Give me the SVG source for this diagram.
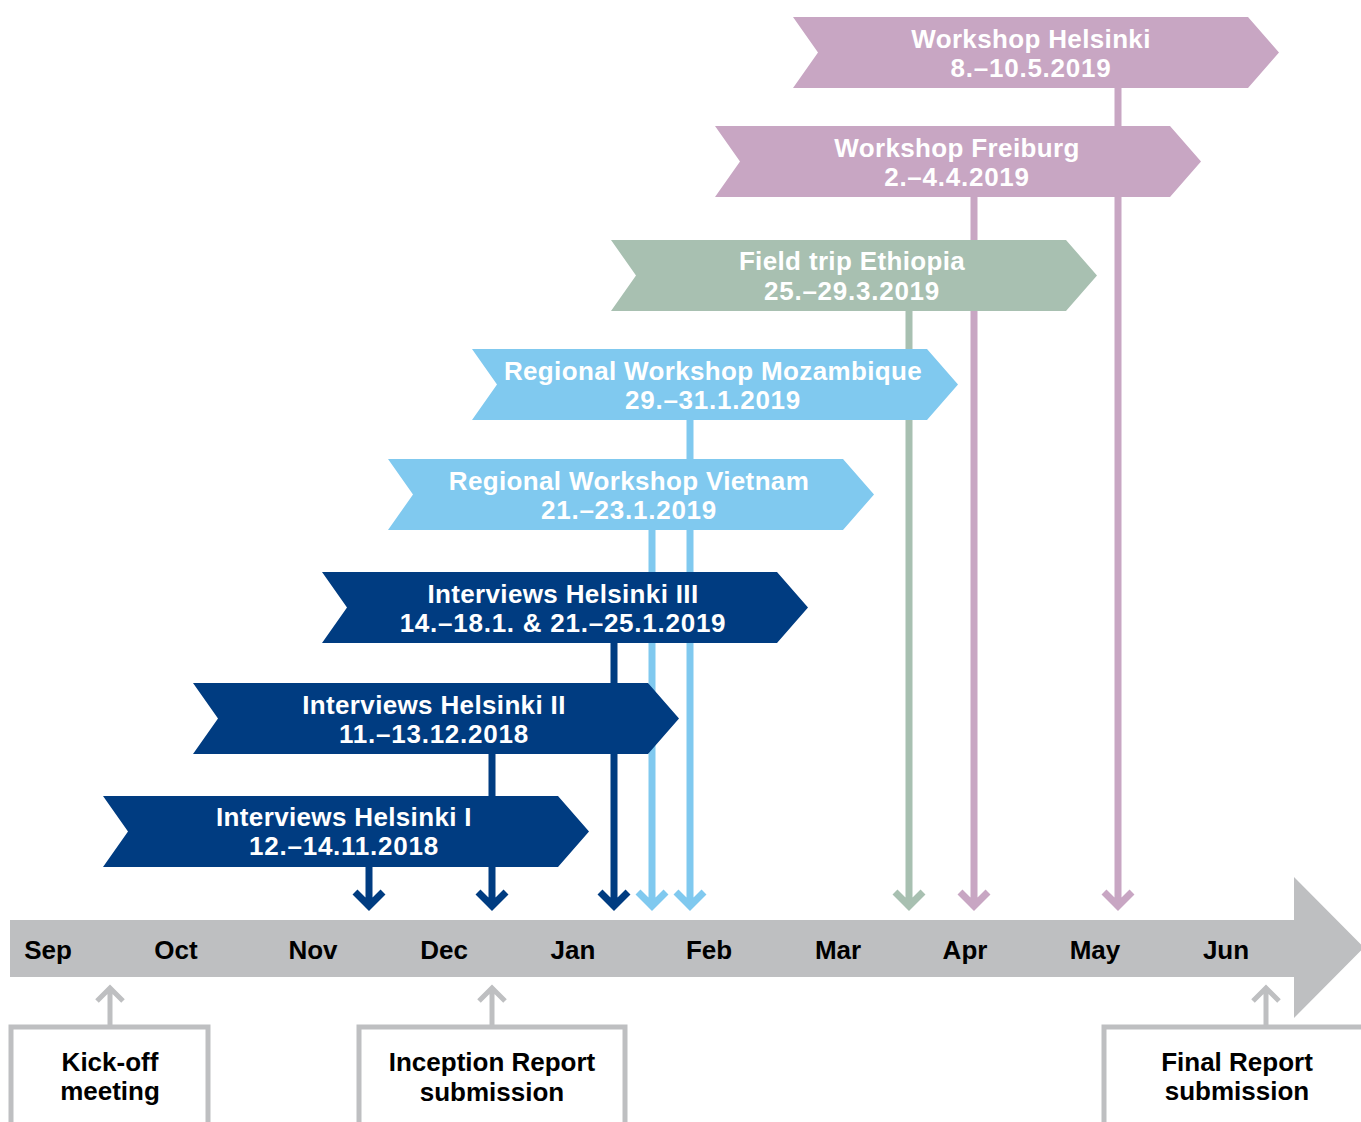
<svg xmlns="http://www.w3.org/2000/svg" width="1361" height="1122" viewBox="0 0 1361 1122">
<style>
.t{font-family:"Liberation Sans",Arial,sans-serif;font-weight:bold;font-size:26px;text-anchor:middle}
.w{fill:#ffffff;letter-spacing:0.35px}
.d{letter-spacing:0.75px}
.k{fill:#000000}
.purple{fill:#c8a6c3}
.green{fill:#a8c0b1}
.light{fill:#80c9ef}
.dark{fill:#003c81}
.lp{stroke:#c8a6c3}
.lg{stroke:#a8c0b1}
.ll{stroke:#80c9ef}
.ld{stroke:#003c81}
.conn{fill:none;stroke-width:7}
.box{fill:#ffffff;stroke:#bebfc1;stroke-width:5}
.up{fill:none;stroke:#bebfc1;stroke-width:5}
</style>
<defs>
<polygon id="chev" points="0,0 455,0 486,35.5 455,71 0,71 25,35.5"/>
</defs>
<g id="connectors">
<path class="conn ld" d="M369,867V905M355,892L369,906L383,892"/>
<path class="conn ld" d="M492,754V905M478,892L492,906L506,892"/>
<path class="conn ld" d="M614,643V905M600,892L614,906L628,892"/>
<path class="conn ll" d="M652,530V905M638,892L652,906L666,892"/>
<path class="conn ll" d="M690,420V905M676,892L690,906L704,892"/>
<path class="conn lg" d="M909,311V905M895,892L909,906L923,892"/>
<path class="conn lp" d="M974,197V905M960,892L974,906L988,892"/>
<path class="conn lp" d="M1118,88V905M1104,892L1118,906L1132,892"/>
</g>
<g id="n-workshop-helsinki">
<use href="#chev" class="purple" transform="translate(793,17)"/>
<text class="t w" x="1031" y="48">Workshop Helsinki</text>
<text class="t w d" x="1031" y="77">8.–10.5.2019</text>
</g>
<g id="n-workshop-freiburg">
<use href="#chev" class="purple" transform="translate(715,126)"/>
<text class="t w" x="957" y="157">Workshop Freiburg</text>
<text class="t w d" x="957" y="186">2.–4.4.2019</text>
</g>
<g id="n-field-trip-ethiopia">
<use href="#chev" class="green" transform="translate(611,240)"/>
<text class="t w" x="852" y="270">Field trip Ethiopia</text>
<text class="t w d" x="852" y="300">25.–29.3.2019</text>
</g>
<g id="n-rw-mozambique">
<use href="#chev" class="light" transform="translate(472,349)"/>
<text class="t w" x="713" y="380">Regional Workshop Mozambique</text>
<text class="t w d" x="713" y="409">29.–31.1.2019</text>
</g>
<g id="n-rw-vietnam">
<use href="#chev" class="light" transform="translate(388,459)"/>
<text class="t w" x="629" y="490">Regional Workshop Vietnam</text>
<text class="t w d" x="629" y="519">21.–23.1.2019</text>
</g>
<g id="n-interviews-3">
<use href="#chev" class="dark" transform="translate(322,572)"/>
<text class="t w" x="563" y="603">Interviews Helsinki III</text>
<text class="t w d" x="563" y="632">14.–18.1. &amp; 21.–25.1.2019</text>
</g>
<g id="n-interviews-2">
<use href="#chev" class="dark" transform="translate(193,683)"/>
<text class="t w" x="434" y="714">Interviews Helsinki II</text>
<text class="t w d" x="434" y="743">11.–13.12.2018</text>
</g>
<g id="n-interviews-1">
<use href="#chev" class="dark" transform="translate(103,796)"/>
<text class="t w" x="344" y="826">Interviews Helsinki I</text>
<text class="t w d" x="344" y="855">12.–14.11.2018</text>
</g>
<g id="timeline">
<polygon fill="#bebfc1" points="10,920 1294,920 1294,877 1364,947.5 1294,1018 1294,977 10,977"/>
<text class="t k" x="48" y="959">Sep</text>
<text class="t k" x="176" y="959">Oct</text>
<text class="t k" x="313" y="959">Nov</text>
<text class="t k" x="444" y="959">Dec</text>
<text class="t k" x="573" y="959">Jan</text>
<text class="t k" x="709" y="959">Feb</text>
<text class="t k" x="838" y="959">Mar</text>
<text class="t k" x="965" y="959">Apr</text>
<text class="t k" x="1095" y="959">May</text>
<text class="t k" x="1226" y="959">Jun</text>
</g>
<g id="n-kickoff">
<path class="up" d="M110,1027V988M97,1001L110,988L123,1001"/>
<rect class="box" x="11" y="1027" width="197" height="110"/>
<text class="t k" x="110" y="1071">Kick-off</text>
<text class="t k" x="110" y="1100">meeting</text>
</g>
<g id="n-inception">
<path class="up" d="M492,1027V988M479,1001L492,988L505,1001"/>
<rect class="box" x="359" y="1027" width="266" height="110"/>
<text class="t k" x="492" y="1071">Inception Report</text>
<text class="t k" x="492" y="1101">submission</text>
</g>
<g id="n-final">
<path class="up" d="M1266,1027V988M1253,1001L1266,988L1279,1001"/>
<rect class="box" x="1104" y="1027" width="280" height="110"/>
<text class="t k" x="1237" y="1071">Final Report</text>
<text class="t k" x="1237" y="1100">submission</text>
</g>
</svg>
